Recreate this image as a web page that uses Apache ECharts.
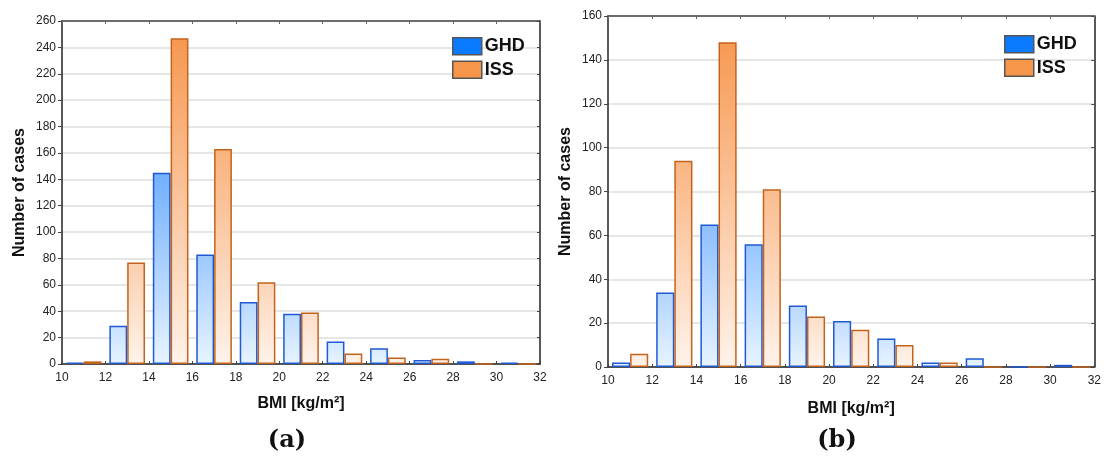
<!DOCTYPE html>
<html>
<head>
    <meta charset="utf-8">
    <title>BMI histogram</title>
    <script src="https://cdn.jsdelivr.net/npm/echarts@6/dist/echarts.min.js"></script>
</head>
<body style="margin:0">
    <div id="main" style="width:1104px;height:456px;"></div>
    <script type="text/javascript">
        // bins of 2 kg/m2, from 10 to 32
        var bins = ['10-12', '12-14', '14-16', '16-18', '18-20', '20-22', '22-24', '24-26', '26-28', '28-30', '30-32'];
        var xMin = 10, xMax = 32, xStep = 2;

        // panel (a)
        var ghdA = [1, 29, 145, 83, 47, 38, 17, 12, 3, 2, 1];
        var issA = [2, 77, 247, 163, 62, 39, 8, 5, 4, 0, 0];
        var yMaxA = 260;

        // panel (b)
        var ghdB = [2, 34, 65, 56, 28, 21, 13, 2, 4, 0, 1];
        var issB = [6, 94, 148, 81, 23, 17, 10, 2, 0, 0, 0];
        var yMaxB = 160;

        var myChart = echarts.init(document.getElementById('main'));

        function hex2rgb(h) {
            return [parseInt(h.substr(1, 2), 16), parseInt(h.substr(3, 2), 16), parseInt(h.substr(5, 2), 16)];
        }
        function mix(c1, c2, t) {
            var a = hex2rgb(c1), b = hex2rgb(c2);
            var r = a.map(function (v, i) { return Math.round(v + (b[i] - v) * t); });
            return 'rgb(' + r.join(',') + ')';
        }
        // the shade follows the height in the plot: strong near the top, pale at the base
        function fill(light, dark, ymax) {
            return function (p) {
                var t = Math.pow(Math.min(1, p.value / ymax), 0.8);
                return new echarts.graphic.LinearGradient(0, 0, 0, 1, [
                    { offset: 0, color: mix(light, dark, t) },
                    { offset: 1, color: light }
                ]);
            };
        }

        var blueLight = '#e8f4ff', blueDark = '#2a86ff', blueEdge = '#1f5ad4';
        var orangeLight = '#fff3eb', orangeDark = '#f6944a', orangeEdge = '#c4631c';
        var fontSans = 'Liberation Sans, Arial, sans-serif';
        var fontSerif = 'DejaVu Serif, Liberation Serif, serif';

        function xAxes(gi, gap) {
            return [
                { gridIndex: gi, type: 'category', data: bins, show: false, position: 'bottom' },
                {
                    gridIndex: gi, type: 'value', position: 'bottom', min: xMin, max: xMax, interval: xStep,
                    name: 'BMI [kg/m²]', nameLocation: 'middle', nameGap: gap,
                    nameTextStyle: { fontFamily: fontSans, fontWeight: 'bold', fontSize: 16, color: '#111' },
                    axisLine: { onZero: false, lineStyle: { color: '#222', width: 1.5 } },
                    axisTick: { inside: true, length: 3, lineStyle: { color: '#444' } },
                    axisLabel: { fontFamily: fontSans, fontSize: 12, color: '#222', margin: 8 },
                    splitLine: { show: false }
                },
                {
                    gridIndex: gi, type: 'value', position: 'top', min: xMin, max: xMax, interval: xStep,
                    axisLine: { onZero: false, lineStyle: { color: '#444', width: 1.5 } },
                    axisTick: { inside: true, length: 3, lineStyle: { color: '#666' } },
                    axisLabel: { show: false },
                    splitLine: { show: false }
                }
            ];
        }
        function yAxes(gi, ymax) {
            return [
                {
                    gridIndex: gi, type: 'value', position: 'left', min: 0, max: ymax, interval: 20,
                    name: 'Number of cases', nameLocation: 'middle', nameGap: 34, nameRotate: 90,
                    nameTextStyle: { fontFamily: fontSans, fontWeight: 'bold', fontSize: 16, color: '#111' },
                    axisLine: { show: true, lineStyle: { color: '#222', width: 1.5 } },
                    axisTick: { show: true, length: 4, lineStyle: { color: '#444' } },
                    axisLabel: { fontFamily: fontSans, fontSize: 12, color: '#222', margin: 6 },
                    splitLine: { lineStyle: { color: '#dedede', width: 1.5 } }
                },
                {
                    gridIndex: gi, type: 'value', position: 'right', min: 0, max: ymax, interval: 20,
                    axisLine: { show: true, lineStyle: { color: '#222', width: 1.5 } },
                    axisTick: { show: true, inside: true, length: 3, lineStyle: { color: '#444' } },
                    axisLabel: { show: false },
                    splitLine: { show: false }
                }
            ];
        }
        function barSeries(name, data, xi, yi, light, dark, edge, ymax) {
            return {
                name: name, type: 'bar', data: data,
                xAxisIndex: xi, yAxisIndex: yi,
                barWidth: '41%', barGap: '0%',
                itemStyle: { color: fill(light, dark, ymax), borderColor: edge, borderWidth: 1.5 },
                emphasis: { disabled: true }
            };
        }
        function legendAt(left, top) {
            return {
                orient: 'vertical', left: left, top: top, padding: 0,
                itemWidth: 29, itemHeight: 17, itemGap: 5, selectedMode: false,
                textStyle: { fontFamily: fontSans, fontWeight: 'bold', fontSize: 18, color: '#111', padding: [0, 0, 0, -2] },
                data: [
                    { name: 'GHD', icon: 'rect', itemStyle: { color: '#0a7bff', borderColor: '#555', borderWidth: 1.5 } },
                    { name: 'ISS', icon: 'rect', itemStyle: { color: '#f6964a', borderColor: '#555', borderWidth: 1.5 } }
                ]
            };
        }
        function caption(letter, x) {
            return {
                text: '{p|(}{b|' + letter + '}{p|)}', left: x, top: 424, textAlign: 'center',
                textStyle: {
                    rich: {
                        p: { fontFamily: fontSerif, fontSize: 24, color: '#111' },
                        b: { fontFamily: fontSerif, fontSize: 24, fontWeight: 'bold', color: '#111' }
                    }
                }
            };
        }

        var option = {
            backgroundColor: '#fff',
            animation: false,
            title: [caption('a', 282), caption('b', 832)],
            legend: [legendAt(452, 37), legendAt(1004, 35)],
            grid: [
                { left: 62, top: 21, width: 478, height: 343 },
                { left: 608, top: 16, width: 489, height: 351 }
            ],
            xAxis: xAxes(0, 32).concat(xAxes(1, 34)),
            yAxis: yAxes(0, yMaxA).concat(yAxes(1, yMaxB)),
            series: [
                barSeries('GHD', ghdA, 0, 0, blueLight, blueDark, blueEdge, yMaxA),
                barSeries('ISS', issA, 0, 0, orangeLight, orangeDark, orangeEdge, yMaxA),
                barSeries('GHD', ghdB, 3, 2, blueLight, blueDark, blueEdge, yMaxB),
                barSeries('ISS', issB, 3, 2, orangeLight, orangeDark, orangeEdge, yMaxB)
            ]
        };

        myChart.setOption(option);
    </script>
</body>
</html>
